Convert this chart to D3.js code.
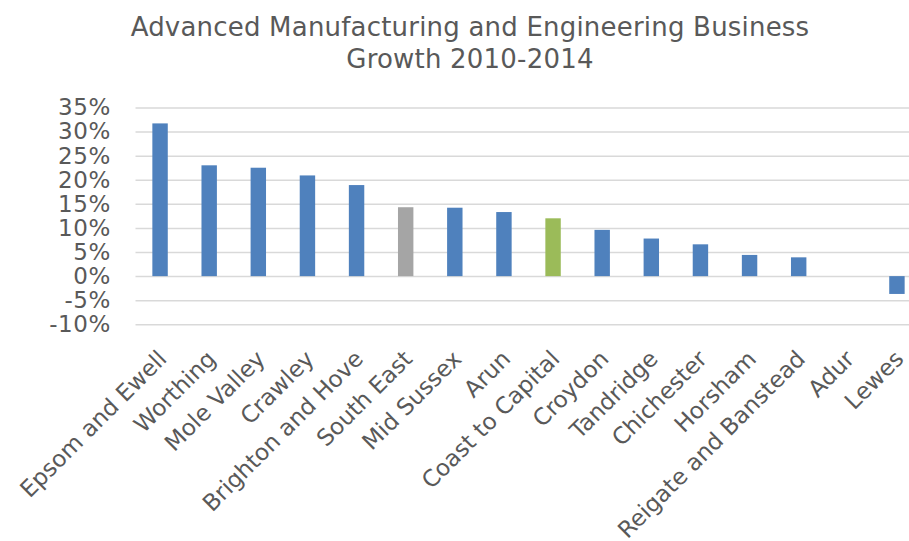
<!DOCTYPE html>
<html>
<head>
<meta charset="utf-8">
<script src="https://cdn.jsdelivr.net/npm/d3@7"></script>
<style>
  html, body { margin: 0; padding: 0; background: #fff; }
  svg { display: block; font-family: "DejaVu Sans", Verdana, sans-serif; }
</style>
</head>
<body>
<svg id="chart" width="909" height="541"></svg>
<script>
const categories = ["Epsom and Ewell", "Worthing", "Mole Valley", "Crawley", "Brighton and Hove",
  "South East", "Mid Sussex", "Arun", "Coast to Capital", "Croydon", "Tandridge", "Chichester",
  "Horsham", "Reigate and Banstead", "Adur", "Lewes"];
const growth = [0.317, 0.230, 0.225, 0.209, 0.189, 0.143, 0.142, 0.133, 0.120, 0.096, 0.078,
  0.066, 0.044, 0.039, 0.0, -0.037];
const barColors = ["#4F81BD", "#4F81BD", "#4F81BD", "#4F81BD", "#4F81BD", "#A5A5A5", "#4F81BD",
  "#4F81BD", "#9BBB59", "#4F81BD", "#4F81BD", "#4F81BD", "#4F81BD", "#4F81BD", "#4F81BD", "#4F81BD"];
const yTicks = [-0.10, -0.05, 0, 0.05, 0.10, 0.15, 0.20, 0.25, 0.30, 0.35];
const titleLines = ["Advanced Manufacturing and Engineering Business", "Growth 2010-2014"];

const svg = d3.select("#chart");
const textColor = "#595959";

const x = d3.scaleBand().domain(categories).range([135.5, 921.5]).paddingInner(0.686).paddingOuter(0.343);
const y = d3.scaleLinear().domain([-0.10, 0.35]).range([324.3, 107.5]);

// Title
svg.append("text")
  .attr("x", 470).attr("y", 36)
  .attr("text-anchor", "middle")
  .attr("fill", textColor)
  .style("font-size", "26px")
  .style("letter-spacing", "0.2px")
  .selectAll("tspan").data(titleLines).join("tspan")
  .attr("x", 470).attr("dy", (d, i) => i === 0 ? 0 : 32)
  .text(d => d);

// Gridlines
const grid = d3.axisLeft(y).tickValues(yTicks).tickSize(-(909 - 135.5)).tickFormat("");
svg.append("g").attr("transform", "translate(135.5,0)").call(grid)
  .call(g => g.select(".domain").remove())
  .call(g => g.selectAll("line").attr("stroke", "#D9D9D9").attr("stroke-width", 1.5));

// Y tick labels
const yAxis = d3.axisLeft(y).tickValues(yTicks).tickSize(0).tickPadding(0)
  .tickFormat(d3.format(".0%"));
svg.append("g").attr("transform", "translate(111,0)").call(yAxis)
  .call(g => g.select(".domain").remove())
  .call(g => g.selectAll("text").attr("fill", textColor).style("font-size", "23px")
    .style("letter-spacing", "0.6px")
    .style("font-family", "'DejaVu Sans', Verdana, sans-serif")
    .text(d => d3.format(".0%")(d).replace("−", "-")));

// Bars
svg.append("g").selectAll("rect").data(categories).join("rect")
  .attr("x", d => x(d))
  .attr("width", x.bandwidth())
  .attr("y", (d, i) => y(Math.max(0, growth[i])))
  .attr("height", (d, i) => Math.abs(y(growth[i]) - y(0)))
  .attr("fill", (d, i) => barColors[i]);

// X labels
const xAxis = d3.axisBottom(x).tickSize(0).tickPadding(0);
svg.append("g").attr("transform", "translate(0,324.3)").call(xAxis)
  .call(g => g.select(".domain").remove())
  .call(g => g.selectAll(".tick text")
    .attr("fill", textColor)
    .style("font-size", "23px")
    .style("font-family", "'DejaVu Sans', Verdana, sans-serif")
    .attr("text-anchor", "end")
    .attr("dy", 0).attr("y", 0)
    .attr("transform", "translate(8,36) rotate(-45)"));
</script>
</body>
</html>
